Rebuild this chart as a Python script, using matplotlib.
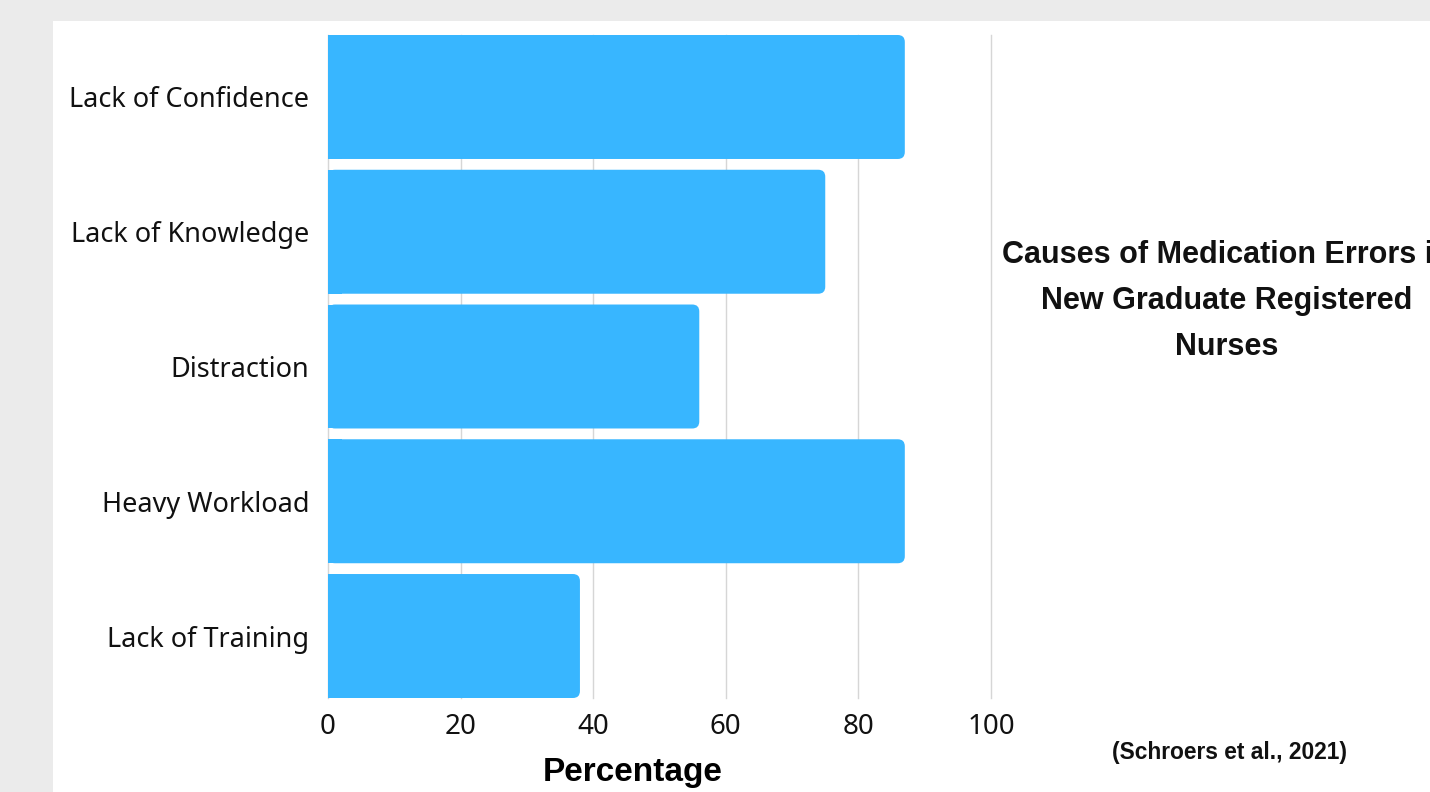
import matplotlib
matplotlib.use("Agg")
import matplotlib.pyplot as plt
from matplotlib.patches import Rectangle, FancyBboxPatch

categories = ["Lack of Confidence", "Lack of Knowledge", "Distraction",
              "Heavy Workload", "Lack of Training"]
values = [87, 75, 56, 87, 38]
xticks = [0, 20, 40, 60, 80, 100]
title_lines = "Causes of Medication Errors in\nNew Graduate Registered\nNurses"
citation = "(Schroers et al., 2021)"
xlabel = "Percentage"

W, H = 1430, 792
fig = plt.figure(figsize=(W / 100, H / 100), dpi=100, facecolor="#ebebeb")
# white panel
fig.patches.append(Rectangle((53 / W, 0), 1 - 53 / W, 1 - 21 / H,
                             transform=fig.transFigure, facecolor="white",
                             edgecolor="none", zorder=-5))

ax = fig.add_axes([328 / W, 1 - 698 / H, (991 - 328) / W, (698 - 35) / H])
ax.set_facecolor("none")
ax.set_zorder(2)
color = "#38B6FF"
bar_h = 0.92
bars = ax.barh(range(len(categories)), values, height=bar_h, color=color, alpha=0)

ax.set_xlim(0, 100)
ax.set_ylim(len(categories) - 1 + bar_h / 2, -bar_h / 2)

# rounded right ends, square left ends
px_x = (991 - 328) / 100.0
px_y = (698 - 35) / (len(categories) - 1 + bar_h)
r_px = 7
for b in bars:
    x0, y0, w, h = b.get_x(), b.get_y(), b.get_width(), b.get_height()
    p = FancyBboxPatch((x0, y0), w, h,
                       boxstyle=f"round,pad=0,rounding_size={r_px / px_x}",
                       mutation_aspect=px_x / px_y,
                       facecolor=color, edgecolor="none", zorder=3)
    ax.add_patch(p)
    ax.add_patch(Rectangle((x0, y0), 2 * r_px / px_x, h, facecolor=color,
                           edgecolor="none", zorder=3))

for s in ax.spines.values():
    s.set_visible(False)
ax.set_xticks(xticks)
ax.set_yticks(range(len(categories)))
ax.set_yticklabels(categories)
ax.grid(axis="x", color="#d6d6d6", linewidth=1.0, zorder=0)
for gl in ax.get_xgridlines():
    gl.set_clip_on(False)
ax.set_axisbelow(True)
ax.tick_params(axis="both", length=0)
ax.tick_params(axis="y", pad=13.5)
ax.tick_params(axis="x", pad=10.5)
for lab in ax.get_yticklabels():
    lab.set_fontfamily("Noto Sans")
    lab.set_fontsize(19.5)
    lab.set_color("#111111")
for lab in ax.get_xticklabels():
    lab.set_fontfamily("Noto Sans")
    lab.set_fontsize(20)
    lab.set_color("#111111")

ax.set_xlabel(xlabel, fontsize=24, fontweight="bold",
              family=["Liberation Sans Narrow", "Liberation Sans"])
ax.xaxis.set_label_coords((633 - 328) / (991 - 328), -(773 - 698) / (698 - 35))
ax.xaxis.label.set_va("center")

fig.text(1227 / W, 1 - 301 / H, title_lines, ha="center", va="center",
         fontsize=22, fontweight="bold", family="Liberation Sans",
         linespacing=1.7, color="#111111")
fig.text(1230 / W, 1 - 752 / H, citation, ha="center", va="center",
         fontsize=16.4, fontweight="bold", family="Liberation Sans", color="#111111")

fig.savefig("out.png", dpi=100, facecolor=fig.get_facecolor())
